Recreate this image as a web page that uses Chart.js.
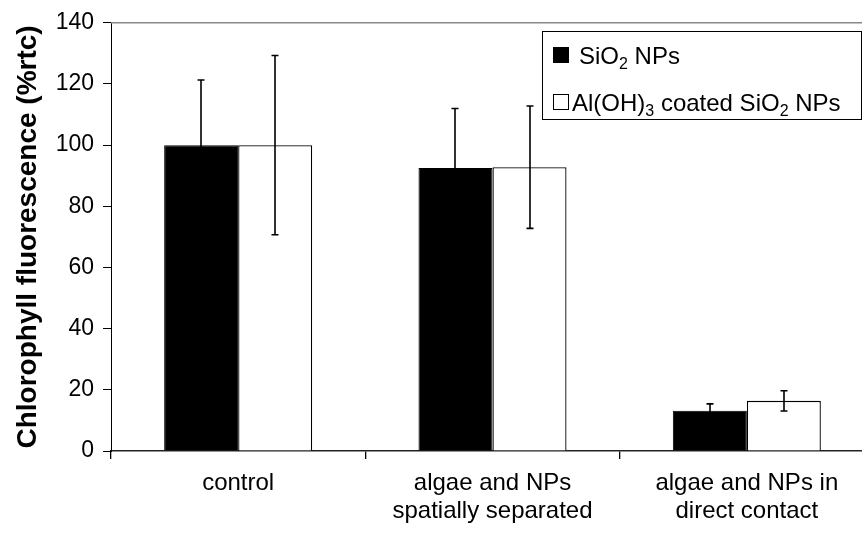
<!DOCTYPE html>
<html>
<head>
<meta charset="utf-8">
<script src="https://cdn.jsdelivr.net/npm/chart.js@4.4.0/dist/chart.umd.min.js"></script>
<style>
  html, body { margin: 0; padding: 0; background: #fff; overflow: hidden; }
  #wrap { width: 900px; height: 534px; }
</style>
</head>
<body>
<div id="wrap"><canvas id="c" width="900" height="534"></canvas></div>
<script>
// ---- data ----
const categories = [
  ['control'],
  ['algae and NPs', 'spatially separated'],
  ['algae and NPs in', 'direct contact']
];
const seriesNames = ['SiO2 NPs', 'Al(OH)3 coated SiO2 NPs'];
const sio2Values = [100, 92.5, 13.2];
const sio2Errors = [21.3, 19.5, 2.2];
const coatedValues = [100, 92.8, 16.4];
const coatedErrors = [29.3, 20.0, 3.3];
const yTicks = [0, 20, 40, 60, 80, 100, 120, 140];
const yTitle = 'Chlorophyll fluorescence (%rtc)';

const FONT = '"Liberation Sans", Arial, Helvetica, sans-serif';

function drawSubText(ctx, text, x, y, size) {
  // digits rendered as subscripts
  const parts = text.split(/(\d+)/);
  let cx = x;
  parts.forEach((p) => {
    if (!p) return;
    const sub = /^\d+$/.test(p);
    ctx.font = (sub ? Math.round(size * 0.65) : size) + 'px ' + FONT;
    ctx.fillText(p, cx, sub ? y + size * 0.22 : y);
    cx += ctx.measureText(p).width;
  });
}

const errorBars = {
  id: 'errorBars',
  afterDatasetsDraw(chart) {
    const ctx = chart.ctx;
    const ys = chart.scales.y;
    const errs = [sio2Errors, coatedErrors];
    chart.data.datasets.forEach((ds, di) => {
      const meta = chart.getDatasetMeta(di);
      meta.data.forEach((bar, j) => {
        const v = ds.data[j], e = errs[di][j];
        const x = Math.round(bar.x);
        const yt = ys.getPixelForValue(v + e);
        const yb = ys.getPixelForValue(v - e);
        ctx.save();
        ctx.strokeStyle = '#000';
        ctx.lineWidth = 1.6;
        ctx.beginPath();
        ctx.moveTo(x, yt); ctx.lineTo(x, yb);
        ctx.moveTo(x - 3.5, yt); ctx.lineTo(x + 3.5, yt);
        ctx.moveTo(x - 3.5, yb); ctx.lineTo(x + 3.5, yb);
        ctx.stroke();
        ctx.restore();
      });
    });
  }
};

const frameAndLegend = {
  id: 'frameAndLegend',
  afterDraw(chart) {
    const ctx = chart.ctx;
    const a = chart.chartArea;
    ctx.save();
    // plot frame (top / right) in grey
    ctx.strokeStyle = '#888';
    ctx.lineWidth = 1.5;
    ctx.beginPath();
    ctx.moveTo(a.left, a.top); ctx.lineTo(a.right, a.top); ctx.lineTo(a.right, a.bottom);
    ctx.stroke();
    // legend box
    ctx.fillStyle = '#fff';
    ctx.fillRect(542, 31, 319, 88);
    ctx.strokeStyle = '#000';
    ctx.lineWidth = 1;
    ctx.strokeRect(542.5, 31.5, 319, 88);
    // item 1
    ctx.fillStyle = '#000';
    ctx.fillRect(553, 47, 16, 16);
    ctx.textBaseline = 'alphabetic';
    ctx.textAlign = 'left';
    drawSubText(ctx, seriesNames[0], 579, 64, 24);
    // item 2
    ctx.fillStyle = '#fff';
    ctx.fillRect(553, 94, 16, 16);
    ctx.strokeStyle = '#000';
    ctx.strokeRect(553.5, 94.5, 15, 15);
    ctx.fillStyle = '#000';
    drawSubText(ctx, seriesNames[1], 572, 111, 24);
    ctx.restore();
  }
};

new Chart(document.getElementById('c'), {
  type: 'bar',
  data: {
    labels: categories,
    datasets: [
      { label: seriesNames[0], data: sio2Values, backgroundColor: '#000', borderColor: '#000', borderWidth: 1 },
      { label: seriesNames[1], data: coatedValues, backgroundColor: '#fff', borderColor: '#000', borderWidth: 1.3 }
    ]
  },
  options: {
    responsive: false,
    animation: false,
    events: [],
    layout: { padding: { top: 21, right: 26, bottom: 0, left: 0 } },
    categoryPercentage: 0.582,
    barPercentage: 1.0,
    plugins: { legend: { display: false }, tooltip: { enabled: false } },
    scales: {
      x: {
        offset: true,
        grid: { display: true, offset: true, drawOnChartArea: false, drawTicks: true, tickLength: 8, color: '#000', lineWidth: 1.3 },
        border: { display: true, color: '#222', width: 1.5 },
        ticks: { color: '#000', font: { family: FONT, size: 24, lineHeight: 1.15 }, padding: 11, maxRotation: 0, autoSkip: false },
        afterFit(s) { s.height = 83; }
      },
      y: {
        min: 0, max: 140,
        afterBuildTicks(s) { s.ticks = yTicks.map(v => ({ value: v })); },
        grid: { display: true, drawOnChartArea: false, drawTicks: true, tickLength: 8, color: '#000', lineWidth: 1 },
        border: { display: true, color: '#000', width: 1 },
        ticks: { color: '#000', font: { family: FONT, size: 23 }, padding: 9 },
        title: { display: true, text: yTitle, color: '#000', font: { family: FONT, size: 28, weight: 'bold' }, padding: { top: 11, bottom: 0 } },
        afterFit(s) { s.width = 111; }
      }
    }
  },
  plugins: [errorBars, frameAndLegend]
});
</script>
</body>
</html>
